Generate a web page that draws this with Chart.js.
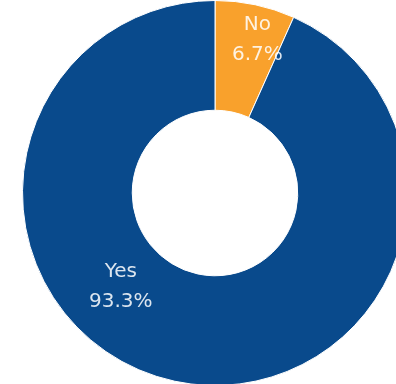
<!DOCTYPE html>
<html>
<head>
<meta charset="utf-8">
<script src="https://cdn.jsdelivr.net/npm/chart.js@4/dist/chart.umd.min.js"></script>
<style>
  html, body { margin: 0; padding: 0; background: #fff; overflow: hidden; }
  #wrap { position: absolute; left: 0; top: 0; width: 430px; height: 386px; }
</style>
</head>
<body>
<div id="wrap"><canvas id="chart"></canvas></div>
<script>
const labels = ['No', 'Yes'];
const shares = [6.7, 93.3];
const colors = ['#f9a12c', '#094a8c'];

// where each label sits: angle clockwise from top (deg), fraction across the ring
const labelPlace = [{angle: 15.5, k: 0.69}, {angle: 225, k: 0.46}];

const sliceLabels = {
    id: 'sliceLabels',
    afterDatasetsDraw(chart) {
        const ctx = chart.ctx;
        const arcs = chart.getDatasetMeta(0).data;
        ctx.save();
        ctx.font = '20px "DejaVu Sans"';
        ctx.fillStyle = 'rgba(255,255,255,0.86)';
        ctx.textAlign = 'center';
        ctx.textBaseline = 'middle';
        arcs.forEach((arc, i) => {
            const p = labelPlace[i];
            const r = arc.innerRadius + (arc.outerRadius - arc.innerRadius) * p.k;
            const a = p.angle * Math.PI / 180;
            const x = arc.x + r * Math.sin(a);
            const y = arc.y - r * Math.cos(a);
            ctx.fillText(labels[i], x, y - 15);
            ctx.fillText(shares[i].toFixed(1) + '%', x, y + 15);
        });
        ctx.restore();
    }
};

new Chart(document.getElementById('chart'), {
    type: 'doughnut',
    data: {
        labels: labels,
        datasets: [{
            data: shares,
            backgroundColor: colors,
            borderColor: '#fff',
            borderWidth: 1
        }]
    },
    options: {
        responsive: true,
        maintainAspectRatio: false,
        animation: false,
        cutout: '43%',
        layout: { padding: 0 },
        plugins: {
            legend: { display: false },
            tooltip: { enabled: false }
        }
    },
    plugins: [sliceLabels]
});
</script>
</body>
</html>
